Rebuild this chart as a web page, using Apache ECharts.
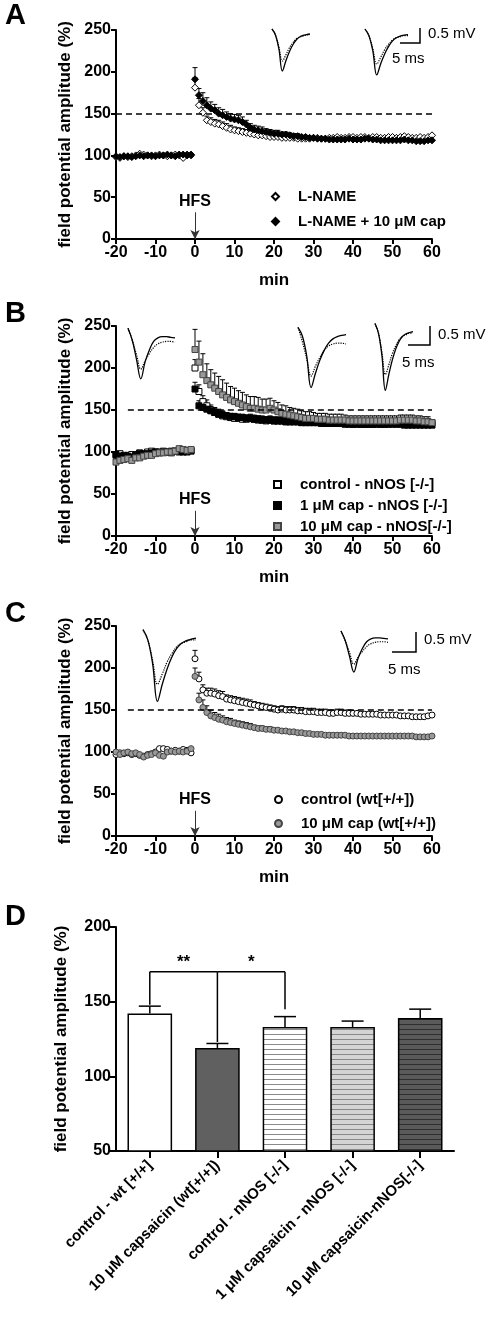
<!DOCTYPE html>
<html><head><meta charset="utf-8">
<script src="https://cdn.jsdelivr.net/npm/echarts@6/dist/echarts.min.js"></script>
<style>html,body{margin:0;padding:0;background:#fff}#c{width:494px;height:1328px}</style>
</head><body><div id="c"></div>
<script>
const FONT = 'Liberation Sans, Arial, sans-serif';
const preTime = [-20,-19,-18,-17,-16,-15,-14,-13,-12,-11,-10,-9,-8,-7,-6,-5,-4,-3,-2,-1];
const postTime = [0,1,2,3,4,5,6,7,8,9,10,11,12,13,14,15,16,17,18,19,20,21,22,23,24,25,26,27,28,29,30,31,32,33,34,35,36,37,38,39,40,41,42,43,44,45,46,47,48,49,50,51,52,53,54,55,56,57,58,59,60];
const xTicks = [-20,-10,0,10,20,30,40,50,60];

// Panel A
const aLname = {
  pre:[98,97,99,98,99,100,102,101,100,99,100,101,100,99,100,101,100,97,101,100],
  post:[181,160,151,142,140,138,137,135,133,131, 130,129,128,127,126,125,124,124,123,122, 122,122,121,121,121,121,120,120,120,120, 121,121,120,120,121,121,122,121,121,122, 122,121,122,122,121,122,122,121,121,122, 122,121,122,123,122,121,121,122,121,122, 124],
  err:[12,8,6,5,5,5,5,5,5,5, 4,4,4,4,4,4,4,4,3,3, 3,3,3,3,3,3,2,2,2,2]
};
const aLnameCap = {
  pre:[99,98,99,99,98,99,100,99,100,100,99,100,100,101,100,99,101,101,100,101],
  post:[191,172,165,160,156,154,150,148,146,144, 143,142,140,137,133,131,130,129,128,127, 126,126,125,125,124,123,123,122,122,121, 121,120,120,120,119,119,119,119,119,120, 119,119,119,120,120,119,119,118,118,118, 118,118,118,119,118,118,117,117,117,118, 118],
  err:[14,8,10,9,8,7,7,7,6,6, 6,6,6,5,5,5,5,5,4,4, 4,4,3,3,3,3,3,2,2,2]
};
// Panel B
const bControl = {
  pre:[96,98,95,96,97,97,99,98,100,101,100,100,101,100,99,101,102,101,100,101],
  post:[200,172,160,155,150,147,145,143,142,141, 140,140,139,139,140,139,138,138,137,138, 137,137,137,136,136,136,136,135,135,135, 135,135,135,134,134,134,134,134,134,134, 133,134,133,133,133,133,134,133,133,134, 134,134,135,135,135,134,134,134,134,135, 135],
  err:[10,8,7,7,6,6,6,5,5,5, 5,5,5,5,5,5,5,5,5,5, 5,5,5,5,5,5,5,5,5,5, 5,5,5,5,5,5,5,5,5,5, 5,5,5,5,5,5,5,5,5,5, 5,5,5,5,5,5,5,5,5,5]
};
const bCap1 = {
  pre:[97,95,96,95,94,96,98,97,98,99,100,99,100,100,101,101,100,100,101,102],
  post:[175,155,153,151,149,147,145,144,143,142, 142,141,141,140,140,139,139,138,138,138, 137,137,137,136,136,136,136,135,135,135, 135,135,134,134,134,134,134,134,133,133, 133,133,133,133,133,133,133,133,133,133, 133,133,133,132,132,132,132,132,132,132, 132],
  err:[8,6,5,5,5,5,5,5,4,4, 4,4,4,4,4,4,4,4,4,4, 4,4,4,4,4,4,4,4,4,4, 4,4,4,4,4,4,4,4,4,4, 4,4,4,4,4,4,4,4,4,4, 4,4,4,4,5,5,5,5,5,5]
};
const bCap10 = {
  pre:[88,90,91,92,90,93,93,95,96,96,98,99,99,100,100,101,104,103,102,103],
  post:[222,207,192,185,180,176,172,168,165,162, 160,158,156,154,152,152,151,150,150,152, 150,148,146,145,144,143,142,141,140,140, 140,139,139,139,138,138,138,138,138,137, 137,137,137,137,137,137,137,137,137,137, 137,137,138,138,138,138,137,137,136,136, 135],
  err:[24,25,25,20,18,18,18,18,17,16, 16,15,15,14,14,14,14,13,13,12, 11,11,10,10,9,9,9,8,8,8, 7,7,7,7,7,7,7,7,6,6, 6,6,6,6,6,6,6,6,6,6, 6,6,6,6,6,6,6,6,6,6]
};
// Panel C
const cControl = {
  pre:[97,99,98,99,97,98,96,95,97,98,100,104,104,103,101,102,101,103,102,99],
  post:[211,187,174,170,170,169,167,166,163,162, 161,160,159,158,157,156,155,154,153,152, 151,150,151,150,150,150,149,149,148,148, 148,147,147,147,146,146,147,147,146,146, 146,146,145,145,145,145,145,144,144,144, 144,144,143,143,143,142,142,142,142,143, 144],
  err:[10,8,6,6,6,6,6,6,5,5, 5,5,5,5,5,4,4,4,4,4, 4,4,4,4,4,4,4,4,4,4, 4,4,4,4,4,4,4,4,4,4]
};
const cCap10 = {
  pre:[100,97,99,100,98,99,97,94,96,97,99,96,95,100,101,100,101,100,101,104],
  post:[190,162,153,147,143,141,139,138,136,135, 134,133,132,131,130,129,128,128,127,127, 126,126,125,125,124,124,123,123,122,122, 121,121,121,120,120,120,120,120,120,119, 119,119,119,119,119,119,119,119,119,119, 119,119,119,119,119,119,118,118,118,118, 119],
  err:[10,8,9,8,7,6,6,5,5,5, 4,4,4,4,4,3,3,3,3,3]
};
// Panel D
const dCategories = ['control - wt [+/+]','10 μM capsaicin (wt[+/+])','control - nNOS [-/-]','1 μM capsaicin - nNOS [-/-]','10 μM capsaicin-nNOS[-/-]'];
const dMeans = [142,119,133,133,139];
const dSem = [5,3,7,4,6];
const dYTicks = [50,100,150,200];
const bracketLegs = [148,123,145];
const bracketTop = 170;

// inset traces (arbitrary units)
const traceSolid1 = [0.8,0.5,-0.2,-1.3,-0.8,-0.35,0.0,0.25,0.4,0.48,0.52,0.55];
const traceDot1   = [0.8,0.5,-0.1,-0.8,-0.5,-0.15,0.1,0.3,0.4,0.45,0.5,0.5];
const traceSolid2 = [0.8,0.3,-0.5,-1.3,-0.6,-0.1,0.25,0.4,0.45,0.45,0.42,0.4];
const traceDot2   = [0.8,0.3,-0.3,-0.9,-0.55,-0.25,0.0,0.15,0.22,0.25,0.25,0.22];

function pairs(t,v){return t.map((x,i)=>[x,v[i]]);}
function serData(s){return pairs(preTime,s.pre).concat(pairs(postTime,s.post));}
function errData(s){return s.err.map((e,i)=>[postTime[i],s.post[i],e]);}

const grids=[], xAxes=[], yAxes=[], series=[], legends=[];
const mainGrids = [
  {left:116,width:316,top:30,height:209},
  {left:116,width:316,top:326,height:210},
  {left:116,width:316,top:626,height:210},
  {left:116,width:338,top:927,height:224}
];
const axLine={show:true,onZero:false,lineStyle:{color:'#000',width:2}};
const lbl={color:'#000',fontWeight:'bold',fontSize:16,fontFamily:FONT};
const nameStyle={color:'#000',fontWeight:'bold',fontSize:17,fontFamily:FONT};
mainGrids.forEach((g,i)=>{
  grids.push(g);
  if(i<3){
    xAxes.push({type:'value',gridIndex:i,min:-20,max:60,interval:10,axisLine:axLine,axisTick:{show:true,length:5,lineStyle:{color:'#000',width:2}},
      axisLabel:Object.assign({margin:6},lbl),splitLine:{show:false},
      name:'min',nameLocation:'middle',nameGap:33,nameTextStyle:nameStyle});
    yAxes.push({type:'value',gridIndex:i,min:0,max:250,interval:50,axisLine:axLine,axisTick:{show:true,length:5,lineStyle:{color:'#000',width:2}},
      axisLabel:Object.assign({margin:5},lbl),splitLine:{show:false},
      name:'field potential amplitude (%)',nameLocation:'middle',nameGap:42,nameTextStyle:nameStyle});
  } else {
    xAxes.push({type:'category',gridIndex:i,data:dCategories,axisLine:axLine,axisTick:{show:true,alignWithLabel:true,length:7,lineStyle:{color:'#000',width:2}},
      axisLabel:Object.assign({rotate:45,margin:12,interval:0},lbl,{fontSize:15})});
    yAxes.push({type:'value',gridIndex:i,min:50,max:200,interval:50,axisLine:axLine,axisTick:{show:true,length:6,lineStyle:{color:'#000',width:2}},
      axisLabel:Object.assign({margin:5},lbl),splitLine:{show:false},
      name:'field potential amplitude (%)',nameLocation:'middle',nameGap:46,nameTextStyle:nameStyle});
  }
});

function errRender(params, api){
  const x=api.value(0), y=api.value(1), e=api.value(2);
  const p0=api.coord([x,y]), p1=api.coord([x,y+e]);
  return {type:'group',children:[
    {type:'line',shape:{x1:p0[0],y1:p0[1],x2:p1[0],y2:p1[1]},style:{stroke:'#000',lineWidth:1}},
    {type:'line',shape:{x1:p1[0]-2.5,y1:p1[1],x2:p1[0]+2.5,y2:p1[1]},style:{stroke:'#000',lineWidth:1}}
  ]};
}
function addTS(gi,name,s,symbol,fill,border,size){
  series.push({type:'custom',name:name+'_err',xAxisIndex:gi,yAxisIndex:gi,renderItem:errRender,data:errData(s),z:1,silent:true,encode:{x:0,y:1}});
  series.push({type:'scatter',name:name,xAxisIndex:gi,yAxisIndex:gi,data:serData(s),symbol:symbol,symbolSize:size,
    itemStyle:{color:fill,borderColor:border,borderWidth:1,opacity:1},z:3});
}
function addRef(gi,xStart,hfsTop){
  series.push({type:'line',xAxisIndex:gi,yAxisIndex:gi,data:[],silent:true,
    markLine:{silent:true,symbol:'none',animation:false,
      data:[
        [{coord:[xStart,150],lineStyle:{type:[6,4],color:'#000',width:1.5},label:{show:false}},{coord:[60,150]}],
        [{coord:[0,hfsTop],symbol:'none',lineStyle:{type:'solid',color:'#333',width:1},
          label:{show:true,position:'start',formatter:'HFS',color:'#000',fontWeight:'bold',fontSize:16,fontFamily:FONT,distance:3}},
         {coord:[0,0],symbol:'arrow',symbolSize:[7,9]}]
      ]}});
}
addTS(0,'L-NAME',aLname,'diamond','#fff','#000',7);
addTS(0,'L-NAME + 10 μM cap',aLnameCap,'diamond','#000','#000',7);
addRef(0,-20,32);
addTS(1,'control - nNOS [-/-]',bControl,'rect','#fff','#000',6);
addTS(1,'1 μM cap - nNOS [-/-]',bCap1,'rect','#000','#000',6);
addTS(1,'10 μM cap - nNOS[-/-]',bCap10,'rect','#999','#444',6);
addRef(1,-17,30);
addTS(2,'control (wt[+/+])',cControl,'circle','#fff','#000',6);
addTS(2,'10 μM cap (wt[+/+])',cCap10,'circle','#999','#444',6);
addRef(2,-17,30);

const legText={color:'#000',fontWeight:'bold',fontSize:15,fontFamily:FONT,padding:[0,0,0,14]};
legends.push({left:266,top:184,orient:'vertical',itemGap:10,itemWidth:7,itemHeight:7,textStyle:legText,data:['L-NAME','L-NAME + 10 μM cap']});
legends.push({left:268,top:472,orient:'vertical',itemGap:6,itemWidth:7,itemHeight:7,textStyle:legText,data:['control - nNOS [-/-]','1 μM cap - nNOS [-/-]','10 μM cap - nNOS[-/-]']});
legends.push({left:269,top:787,orient:'vertical',itemGap:9,itemWidth:7,itemHeight:7,textStyle:legText,data:['control (wt[+/+])','10 μM cap (wt[+/+])']});

function stripes(bg,line){
  const c=document.createElement('canvas');c.width=4;c.height=5;
  const x=c.getContext('2d');x.fillStyle=bg;x.fillRect(0,0,4,5);x.fillStyle=line;x.fillRect(0,4,4,1);
  return {image:c,repeat:'repeat'};
}
const dFills=['#ffffff','#606060',stripes('#ffffff','#8a8a8a'),stripes('#d4d4d4','#888888'),stripes('#5a5a5a','#2e2e2e')];
series.push({type:'bar',xAxisIndex:3,yAxisIndex:3,barWidth:'66%',
  data:dMeans.map((v,i)=>({value:v,itemStyle:{color:dFills[i],borderColor:'#000',borderWidth:1.5}}))});
series.push({type:'custom',xAxisIndex:3,yAxisIndex:3,silent:true,z:5,
  data:dMeans.map((v,i)=>[i,v,dSem[i]]),
  renderItem:function(params,api){
    const p0=api.coord([api.value(0),api.value(1)]),p1=api.coord([api.value(0),api.value(1)+api.value(2)]);
    return {type:'group',children:[
      {type:'line',shape:{x1:p0[0],y1:p0[1],x2:p1[0],y2:p1[1]},style:{stroke:'#000',lineWidth:1.5}},
      {type:'line',shape:{x1:p1[0]-11,y1:p1[1],x2:p1[0]+11,y2:p1[1]},style:{stroke:'#000',lineWidth:1.5}}]};
  }});
series.push({type:'custom',xAxisIndex:3,yAxisIndex:3,silent:true,z:5,
  data:bracketLegs.map((v,i)=>[i,v,bracketTop]),
  renderItem:function(params,api){
    const i=api.value(0);
    const pb=api.coord([i,api.value(1)]),pt=api.coord([i,api.value(2)]);
    const ch=[{type:'line',shape:{x1:pb[0],y1:pb[1],x2:pt[0],y2:pt[1]},style:{stroke:'#000',lineWidth:1.5}}];
    if(i<2){const pn=api.coord([i+1,api.value(2)]);
      ch.push({type:'line',shape:{x1:pt[0],y1:pt[1],x2:pn[0],y2:pn[1]},style:{stroke:'#000',lineWidth:1.5}});
      ch.push({type:'text',style:{text:i===0?'**':'*',x:(pt[0]+pn[0])/2,y:pt[1]-18,textAlign:'center',fill:'#000',font:'bold 17px '+FONT}});}
    return {type:'group',children:ch};
  }});

const insets=[
  {left:272,top:28,width:38,height:44,s:traceSolid1,d:traceDot1},
  {left:365,top:28,width:43,height:48,s:traceSolid1,d:traceDot1},
  {left:128,top:327,width:47,height:53,s:traceSolid2,d:traceDot2},
  {left:298,top:326,width:48,height:63,s:traceSolid1,d:traceDot2},
  {left:375,top:322,width:38,height:70,s:traceSolid1,d:traceDot1},
  {left:143,top:628,width:53,height:75,s:traceSolid1,d:traceDot1},
  {left:341,top:630,width:47,height:43,s:traceSolid2,d:traceDot2}
];
insets.forEach(ins=>{
  const gi=grids.length;
  grids.push({left:ins.left,top:ins.top,width:ins.width,height:ins.height});
  xAxes.push({type:'value',gridIndex:gi,min:0,max:ins.s.length-1,show:false});
  yAxes.push({type:'value',gridIndex:gi,min:-1.35,max:0.85,show:false});
  const idx=ins.s.map((_,i)=>i);
  series.push({type:'line',xAxisIndex:gi,yAxisIndex:gi,data:pairs(idx,ins.d),showSymbol:false,smooth:0.4,lineStyle:{color:'#000',width:1.2,type:'dotted'},silent:true});
  series.push({type:'line',xAxisIndex:gi,yAxisIndex:gi,data:pairs(idx,ins.s),showSymbol:false,smooth:0.4,lineStyle:{color:'#000',width:1.3},silent:true});
});

function scaleBar(x,y0,y1,xl,ytext1,ytext2,xt2){
  return [
    {type:'polyline',shape:{points:[[x,y0],[x,y1],[xl,y1]]},style:{stroke:'#000',lineWidth:1.5,fill:null}},
    {type:'text',left:x+8,top:ytext1,style:{text:'0.5 mV',font:'15px '+FONT,fill:'#000'}},
    {type:'text',left:xt2,top:ytext2,style:{text:'5 ms',font:'15px '+FONT,fill:'#000'}}
  ];
}
const letters=[['A',1],['B',299],['C',599],['D',902]].map(([t,y])=>({type:'text',left:5,top:y,style:{text:t,font:'bold 29px '+FONT,fill:'#000'}}));
const graphic=letters.concat(scaleBar(420,28,43,400,26,51,392),scaleBar(430,326,345,408,327,355,402),scaleBar(416,632,652,392,632,662,388));

const chart=echarts.init(document.getElementById('c'),null,{renderer:'canvas'});
chart.setOption({animation:false,backgroundColor:'#fff',grid:grids,xAxis:xAxes,yAxis:yAxes,series:series,legend:legends,graphic:graphic});
</script></body></html>
